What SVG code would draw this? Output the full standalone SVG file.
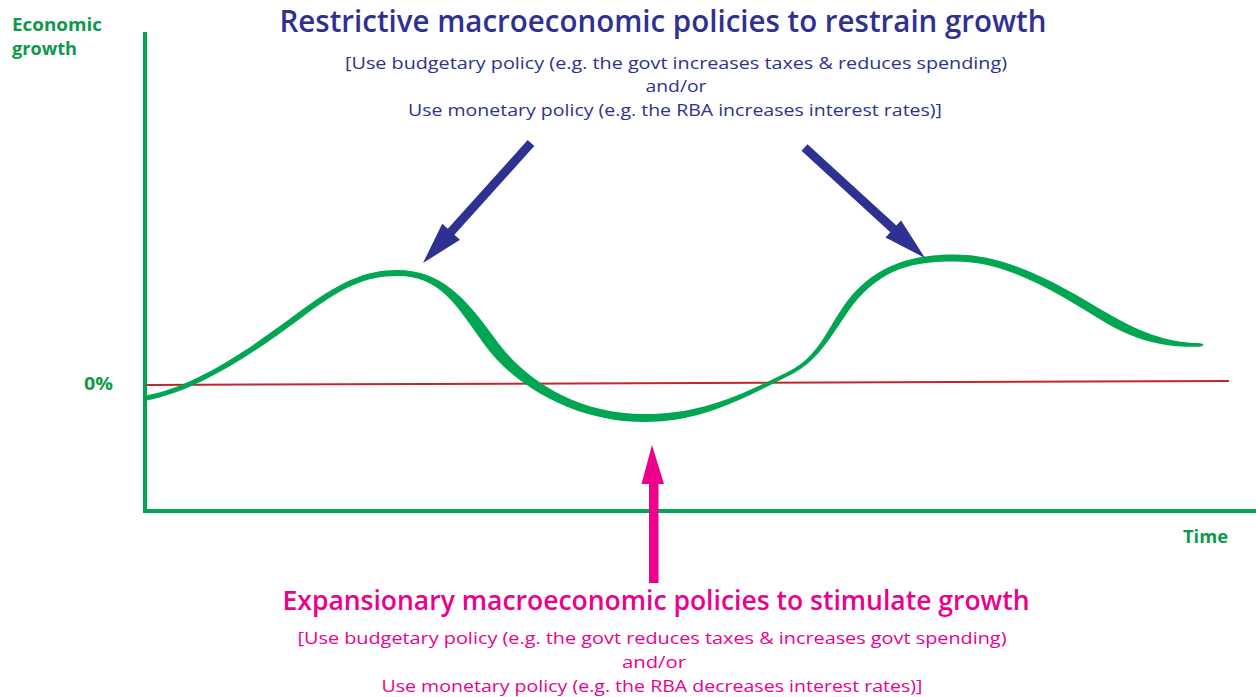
<svg xmlns="http://www.w3.org/2000/svg" width="1256" height="697" viewBox="0 0 1256 697">
  <style>
    .axis { stroke: #00a651; stroke-width: 4; fill: none; }
    .zero { stroke: #c1272d; stroke-width: 2; fill: none; }
    .curve { fill: #00a651; }
    .axislbl { font-family: "Open Sans", "Liberation Sans", sans-serif; font-weight: 700; fill: #0d9a4a; }
    .blue { fill: #2e3192; }
    .pink { fill: #ec008c; }
    .head { font-family: "Open Sans", "Liberation Sans", sans-serif; font-weight: 600; text-anchor: middle; }
    .note { font-family: "Open Sans", "Liberation Sans", sans-serif; font-weight: 400; text-anchor: middle; font-size: 17px; }
  </style>

  <rect width="1256" height="697" fill="#ffffff"/>

  <!-- axes and the zero-growth line -->
  <g id="axes">
    <line class="axis" x1="145" y1="32" x2="145" y2="513"/>
    <line class="axis" x1="143" y1="511" x2="1256" y2="511"/>
    <line class="zero" x1="146" y1="385" x2="1229" y2="381"/>
    <text class="axislbl" x="12" y="31" font-size="18" textLength="90" lengthAdjust="spacingAndGlyphs">Economic</text>
    <text class="axislbl" x="12" y="55" font-size="18" textLength="65" lengthAdjust="spacingAndGlyphs">growth</text>
    <text class="axislbl" x="84" y="390" font-size="17" textLength="29" lengthAdjust="spacingAndGlyphs">0%</text>
    <text class="axislbl" x="1183" y="543" font-size="18" textLength="45" lengthAdjust="spacingAndGlyphs">Time</text>
  </g>

  <!-- business cycle curve drawn as a band of varying thickness -->
  <g id="cycle">
    <path class="curve" d="M145.55,395.5 C189.55,387.5 238.2,357.6 298.2,312.6
      C338.2,282.6 365,270 397,270
      C440,270 464.9,296.5 494.9,338.5
      C519.9,373.5 570,414 645,414
      C700,414 739.1,396.2 789.1,371.2
      C819.1,356.2 827.2,327.9 847.2,300.9
      C877.2,262.9 915,254.5 955,254.5
      C1010,254.5 1062.3,286.1 1112.3,316.1
      C1152.3,339.1 1180,343.2 1200,343.2
      Q1207,344.5 1200,346.8
      C1180,346.8 1147.7,346.9 1107.7,323.9
      C1057.7,293.9 1010,261.5 955,261.5
      C915,261.5 882.8,267.1 852.8,305.1
      C832.8,332.1 820.9,359.8 790.9,374.8
      C740.9,399.8 700,422 645,422
      C570,422 510.1,380.5 485.1,345.5
      C455.1,303.5 440,276 397,276
      C365,276 341.8,287.4 301.8,317.4
      C241.8,362.4 190.45,392.5 146.45,400.5 Z"/>
  </g>

  <!-- policy arrows -->
  <g id="connectors">
    <polygon class="blue" points="534.3,146 454.4,234.8 460,239.8 423,263 442.2,223.8 447.8,228.8 527.7,140"/>
    <polygon class="blue" points="807.5,144.2 896.3,225.6 901.1,220.4 925,258 885.5,237.4 890.3,232.2 801.5,150.8"/>
    <polygon class="pink" points="649,583 649,484 641.5,484 652,445 664,484 658.5,484 658.5,583"/>
  </g>

  <!-- restrictive policy label -->
  <g id="restrictive">
    <text class="head blue" x="663" y="32" font-size="30" textLength="767" lengthAdjust="spacingAndGlyphs">Restrictive macroeconomic policies to restrain growth</text>
    <text class="note blue" x="676" y="69" textLength="662" lengthAdjust="spacingAndGlyphs">[Use budgetary policy (e.g. the govt increases taxes &amp; reduces spending)</text>
    <text class="note blue" x="676" y="92" textLength="61" lengthAdjust="spacingAndGlyphs">and/or</text>
    <text class="note blue" x="675" y="116" textLength="534" lengthAdjust="spacingAndGlyphs">Use monetary policy (e.g. the RBA increases interest rates)]</text>
  </g>

  <!-- expansionary policy label -->
  <g id="expansionary">
    <text class="head pink" x="656" y="610" font-size="27" textLength="747" lengthAdjust="spacingAndGlyphs">Expansionary macroeconomic policies to stimulate growth</text>
    <text class="note pink" x="652" y="644" textLength="709" lengthAdjust="spacingAndGlyphs">[Use budgetary policy (e.g. the govt reduces taxes &amp; increases govt spending)</text>
    <text class="note pink" x="654" y="668" textLength="64" lengthAdjust="spacingAndGlyphs">and/or</text>
    <text class="note pink" x="652" y="692" textLength="541" lengthAdjust="spacingAndGlyphs">Use monetary policy (e.g. the RBA decreases interest rates)]</text>
  </g>
</svg>
